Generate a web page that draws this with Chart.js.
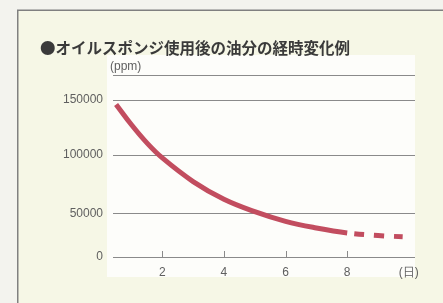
<!DOCTYPE html>
<html><head><meta charset="utf-8">
<script src="https://cdn.jsdelivr.net/npm/chart.js@4"></script>
<style>html,body{margin:0;padding:0;background:#f3f3ee;}#wrap{width:443px;height:303px;position:relative}</style>
</head><body><div id="wrap"><canvas id="c" width="443" height="303"></canvas></div>
<script>
const titleText = '●オイルスポンジ使用後の油分の経時変化例';
const unitLabel = '(ppm)';
const days = [0.5, 1, 1.5, 2, 3, 4, 5, 6, 7, 8, 9, 9.8];
const oilPpm = [146000, 127500, 111000, 97500, 77500, 62500, 52000, 41500, 33800, 28000, 25000, 23500];
const dashFromDay = 8;
const yTickValues = [0, 50000, 100000, 150000];
const yTop = 175000;
const xTickValues = [2, 4, 6, 8, 10];
const xTickLabels = ['2', '4', '6', '8', '(日)'];
const xTickMarks = [2, 4, 6, 8];

// The original's value axis is not evenly spaced; this scale reproduces its gridline spacing
class SegmentedScale extends Chart.LinearScale {
  _anchors() {
    return {v: this.options.anchorValues, f: this.options.anchorFractions};
  }
  getPixelForValue(value) {
    const {v, f} = this._anchors();
    let frac;
    if (value <= v[0]) frac = f[0] + (value - v[0]) * (f[1] - f[0]) / (v[1] - v[0]);
    else {
      let i = 1;
      while (i < v.length - 1 && value > v[i]) i++;
      frac = f[i - 1] + (value - v[i - 1]) * (f[i] - f[i - 1]) / (v[i] - v[i - 1]);
    }
    return this.bottom - frac * (this.bottom - this.top);
  }
  getValueForPixel(pixel) {
    const {v, f} = this._anchors();
    const frac = (this.bottom - pixel) / (this.bottom - this.top);
    let i = 1;
    while (i < f.length - 1 && frac > f[i]) i++;
    return v[i - 1] + (frac - f[i - 1]) * (v[i] - v[i - 1]) / (f[i] - f[i - 1]);
  }
}
SegmentedScale.id = 'segmented';
SegmentedScale.defaults = Chart.LinearScale.defaults;
Chart.register(SegmentedScale);

const bgPlugin = {
  id: 'bg',
  beforeDraw(chart) {
    const ctx = chart.ctx, a = chart.chartArea;
    ctx.save();
    ctx.fillStyle = '#f3f3ee';
    ctx.fillRect(0, 0, chart.width, chart.height);
    ctx.fillStyle = '#f6f7e6';
    ctx.fillRect(18, 10, chart.width - 18, chart.height - 10);
    ctx.fillStyle = '#fdfdfa';
    ctx.fillRect(a.left - 6, a.top - 20, a.right - a.left + 6, a.bottom - a.top + 40);
    ctx.strokeStyle = '#808080';
    ctx.lineWidth = 1.5;
    ctx.beginPath();
    ctx.moveTo(17.75, chart.height);
    ctx.lineTo(17.75, 10.25);
    ctx.lineTo(chart.width, 10.25);
    ctx.stroke();
    ctx.restore();
  },
  afterDraw(chart) {
    const ctx = chart.ctx, a = chart.chartArea, xs = chart.scales.x;
    ctx.save();
    ctx.strokeStyle = '#8a8a8a';
    ctx.lineWidth = 1;
    for (const v of xTickMarks) {
      const px = Math.round(xs.getPixelForValue(v)) + 0.5;
      ctx.beginPath();
      ctx.moveTo(px, a.bottom);
      ctx.lineTo(px, a.bottom - 6);
      ctx.stroke();
    }
    ctx.fillStyle = '#5f5f5f';
    ctx.font = '12px "Liberation Sans", Arial, sans-serif';
    ctx.textBaseline = 'middle';
    ctx.textAlign = 'left';
    ctx.fillText(unitLabel, a.left - 3, a.top - 8);
    ctx.restore();
  }
};

new Chart(document.getElementById('c'), {
  type: 'line',
  data: {
    datasets: [{
      data: days.map((d, i) => ({x: d, y: oilPpm[i]})),
      borderColor: '#c24d5f',
      borderWidth: 5,
      borderCapStyle: 'butt',
      pointRadius: 0,
      tension: 0.4,
      fill: false,
      segment: {
        borderDash: ctx => ctx.p0.parsed.x >= dashFromDay ? [10, 10] : [],
        borderDashOffset: ctx => ctx.p0.parsed.x >= dashFromDay ? 13 : 0
      }
    }]
  },
  options: {
    responsive: false,
    animation: false,
    devicePixelRatio: 1,
    layout: {padding: {left: 40, right: 28, top: 0, bottom: 16}},
    plugins: {
      legend: {display: false},
      tooltip: {enabled: false},
      title: {
        display: true,
        text: titleText,
        align: 'start',
        color: '#3a3a3a',
        font: {family: '"Noto Sans CJK JP", sans-serif', size: 15.5, weight: 'bold', lineHeight: 1.2},
        padding: {top: 39, bottom: 17.4}
      }
    },
    scales: {
      x: {
        type: 'linear',
        min: 0.4,
        max: 10.2,
        afterBuildTicks: s => { s.ticks = xTickValues.map(v => ({value: v})); },
        afterFit: s => { s.height = 30; },
        grid: {display: false, drawTicks: false},
        border: {display: false},
        ticks: {
          autoSkip: false,
          maxRotation: 0,
          padding: 8,
          color: '#5f5f5f',
          font: {family: '"Liberation Sans", Arial, sans-serif', size: 12},
          callback: v => xTickLabels[xTickValues.indexOf(v)]
        }
      },
      y: {
        type: 'segmented',
        min: 0,
        max: yTop,
        anchorValues: yTickValues.concat([yTop]),
        anchorFractions: [0, 0.2363, 0.5604, 0.8626, 1],
        afterBuildTicks: s => { s.ticks = yTickValues.concat([yTop]).map(v => ({value: v})); },
        afterFit: s => { s.width = 73; },
        grid: {color: '#8a8a8a', lineWidth: 1, drawTicks: false},
        border: {display: false},
        ticks: {
          padding: 10,
          color: '#5f5f5f',
          font: {family: '"Liberation Sans", Arial, sans-serif', size: 12},
          callback: v => yTickValues.includes(v) ? String(v) : ''
        }
      }
    }
  },
  plugins: [bgPlugin]
});
</script>
</body></html>
